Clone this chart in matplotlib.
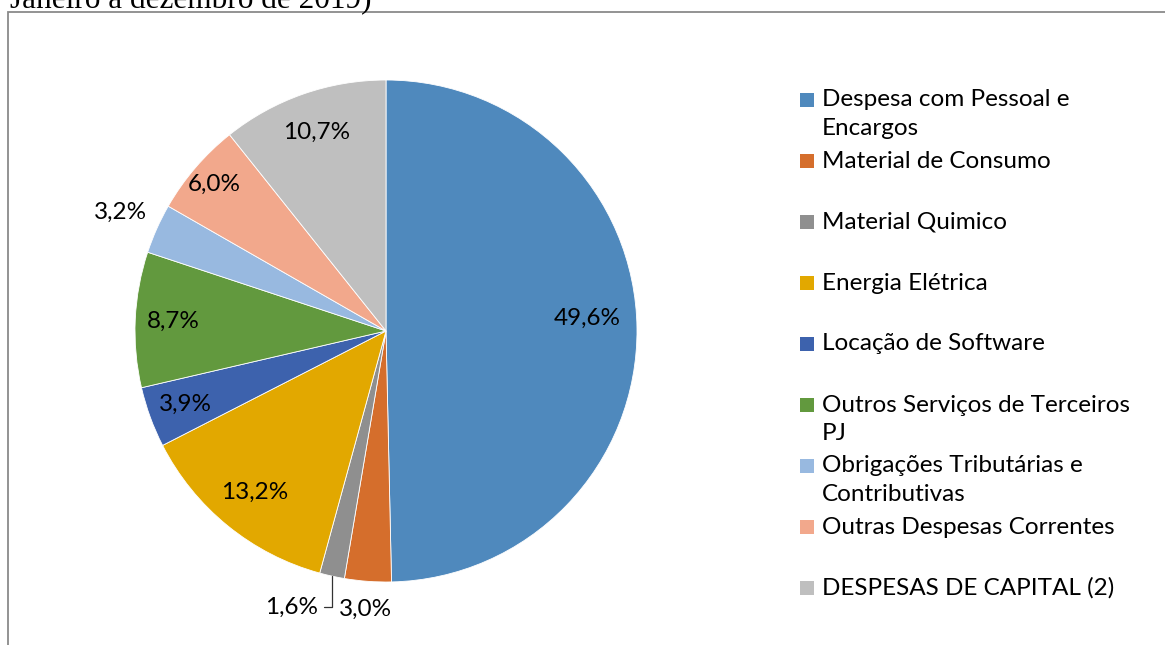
import numpy as np
import matplotlib
matplotlib.use("Agg")
import matplotlib.pyplot as plt
from matplotlib.patches import Rectangle

categories = ["Despesa com Pessoal e\nEncargos", "Material de Consumo", "Material Quimico",
              "Energia Elétrica", "Locação de Software", "Outros Serviços de Terceiros\nPJ",
              "Obrigações Tributárias e\nContributivas", "Outras Despesas Correntes",
              "DESPESAS DE CAPITAL (2)"]
values = [49.6, 3.0, 1.6, 13.2, 3.9, 8.7, 3.2, 6.0, 10.7]
colors = ["#4F89BD", "#D56E2C", "#8F8F8F", "#E2A800", "#3D62AD",
          "#62993E", "#98B9E0", "#F2A88C", "#BFBFBF"]
# label distance from centre (fraction of radius)
label_r = [0.80, 1.11, None, 0.83, 0.85, 0.85, 1.16, 0.90, 0.84]

W, H = 1165, 645
FONT = "Lato"
FS = 17.5
plt.rcParams['font.family'] = [FONT, 'DejaVu Sans']

fig = plt.figure(figsize=(W / 100, H / 100), dpi=100)

# cut-off caption and frame of the original document
fig.text(10 / W, 1 - 8 / H, "Janeiro a dezembro de 2019)", family="Liberation Serif",
         fontsize=22.5, ha="left", va="baseline")
fig.patches.append(Rectangle((8 / W, -0.2), 1.2, 1.2 - 12 / H,
                             transform=fig.transFigure, fill=False,
                             edgecolor="#8A8A8A", lw=1.3))

cx, cy, R = 386, 331, 251
half = 300
ax = fig.add_axes([(cx - half) / W, (H - cy - half) / H, 2 * half / W, 2 * half / H])
wedges, _ = ax.pie(values, colors=colors, startangle=90, counterclock=False,
                   radius=1.0, wedgeprops=dict(edgecolor="white", linewidth=0.6))
ax.set_xlim(-half / R, half / R)
ax.set_ylim(-half / R, half / R)
ax.axis("off")

def fmt(v):
    return f"{v:.1f}%".replace(".", ",")

for w, v, r in zip(wedges, values, label_r):
    ang = np.deg2rad((w.theta1 + w.theta2) / 2)
    if r is None:
        ax.annotate(fmt(v), xy=(np.cos(ang), np.sin(ang)), xytext=(-0.27, -1.10),
                    ha="right", va="center", fontsize=FS,
                    arrowprops=dict(arrowstyle="-", color="#333333", lw=0.9,
                                    connectionstyle="angle,angleA=0,angleB=90",
                                    shrinkA=2, shrinkB=0))
        continue
    ax.text(r * np.cos(ang), r * np.sin(ang) + (0.04 if r < 0.81 else 0), fmt(v),
            ha="center", va="center", fontsize=FS)

# legend drawn by hand to match the spacing of the original
leg_x, leg_y0, step = 800, 100, 61.0
for i, (lab, c) in enumerate(zip(categories, colors)):
    y = leg_y0 + step * i
    fig.patches.append(Rectangle((leg_x / W, 1 - (y + 7) / H), 14 / W, 14 / H,
                                 transform=fig.transFigure, facecolor=c, edgecolor="none"))
    fig.text((leg_x + 22) / W, 1 - (y - 10.5) / H, lab, ha="left", va="top",
             fontsize=FS, linespacing=1.47)

fig.savefig("out.png", dpi=100)
